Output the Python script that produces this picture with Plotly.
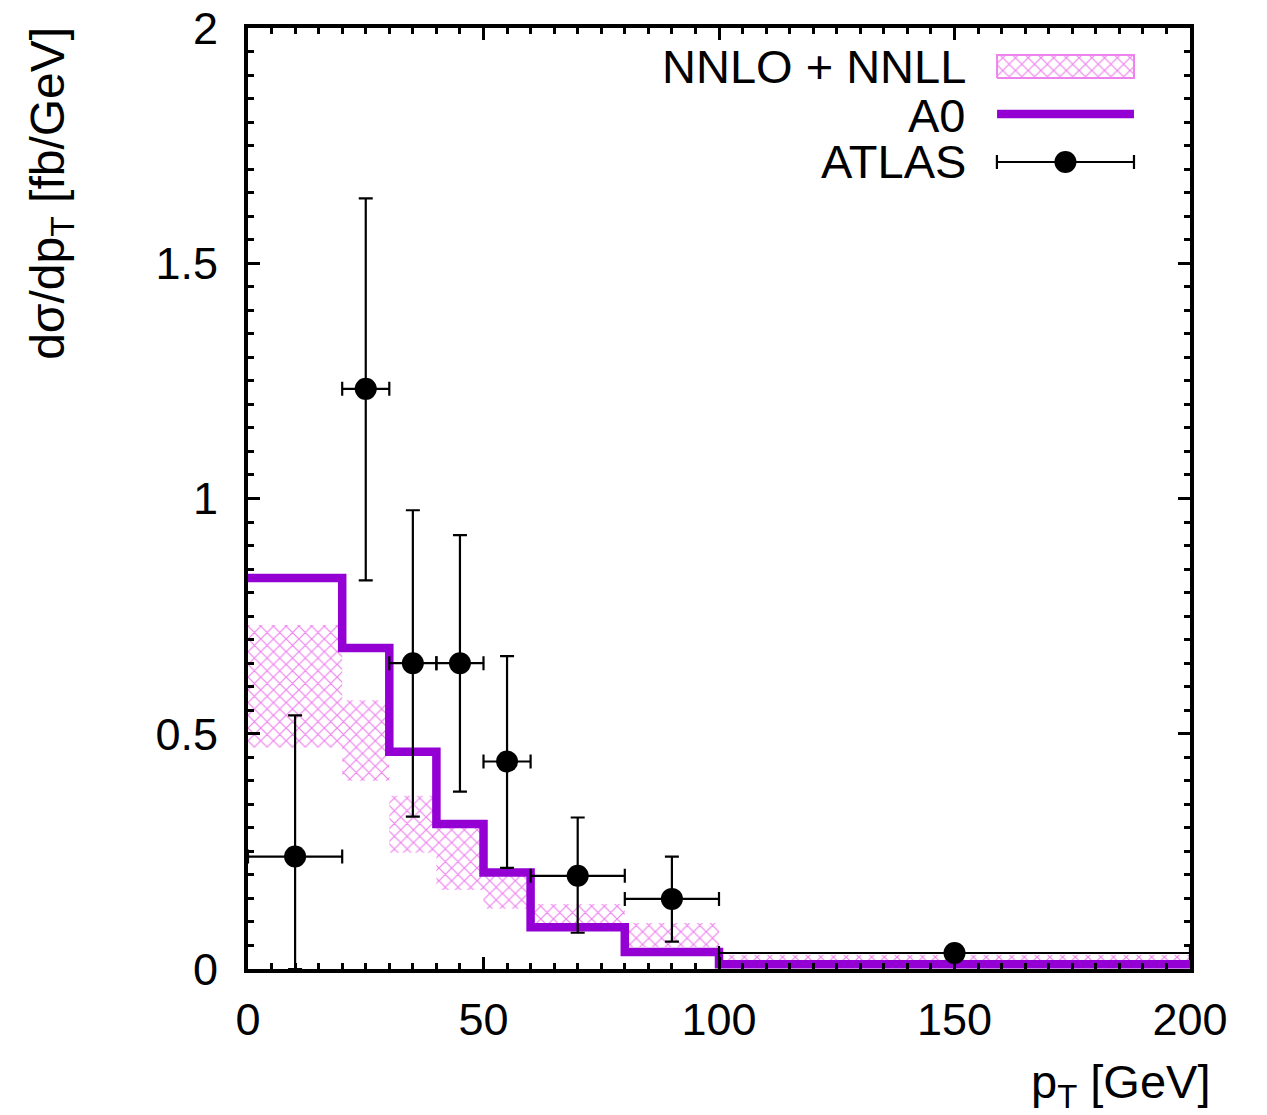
import plotly.graph_objects as go

# ---------------- data ----------------
bin_lo = [0, 20, 30, 40, 50, 60, 80, 100]
bin_hi = [20, 30, 40, 50, 60, 80, 100, 200]

a0_values = [0.831, 0.682, 0.462, 0.308, 0.205, 0.089, 0.036, 0.010]

band_upper = [0.731, 0.571, 0.368, 0.312, 0.205, 0.138, 0.098, 0.030]
band_lower = [0.471, 0.400, 0.247, 0.168, 0.128, 0.084, 0.047, 0.013]

atlas_x = [10, 25, 35, 45, 55, 70, 90, 150]
atlas_xerr = [10, 5, 5, 5, 5, 10, 10, 50]
atlas_y = [0.239, 1.233, 0.650, 0.650, 0.441, 0.198, 0.149, 0.034]
atlas_up = [0.539, 1.638, 0.975, 0.922, 0.665, 0.322, 0.239, 0.036]
atlas_down = [0.000, 0.826, 0.324, 0.377, 0.215, 0.077, 0.058, 0.032]

x_tickvals = [0, 50, 100, 150, 200]
x_ticktext = ["0", "50", "100", "150", "200"]
y_tickvals = [0, 0.5, 1, 1.5, 2]
y_ticktext = ["0", "0.5", "1", "1.5", "2"]

legend_labels = ["NNLO + NNLL", "A0", "ATLAS"]

PINK = "#EE82EE"
PURPLE = "#9400D3"
FONT = "Liberation Sans, Arial, Helvetica, sans-serif"
FS = 45

HATCH = dict(shape="x", fgcolor=PINK, fgopacity=1, bgcolor="rgba(255,255,255,0)",
             size=9, solidity=0.25)

fig = go.Figure()

# ---- NNLO+NNLL band (step polygon) ----
bx, by = [], []
for lo, hi, u in zip(bin_lo, bin_hi, band_upper):
    bx += [lo, hi]
    by += [u, u]
for lo, hi, l in reversed(list(zip(bin_lo, bin_hi, band_lower))):
    bx += [hi, lo]
    by += [l, l]
bx.append(bx[0]); by.append(by[0])
fig.add_trace(go.Scatter(
    x=bx, y=by, mode="lines", fill="toself", line=dict(width=0, color=PINK),
    fillcolor="rgba(0,0,0,0)", fillpattern=HATCH,
    hoverinfo="skip", showlegend=False))

# ---- A0 step line ----
fig.add_trace(go.Scatter(
    x=bin_lo + [bin_hi[-1]], y=a0_values + [a0_values[-1]], mode="lines",
    line=dict(color=PURPLE, width=8.5, shape="hv"), showlegend=False))

# ---- ATLAS data ----
fig.add_trace(go.Scatter(
    x=atlas_x, y=atlas_y, mode="markers",
    marker=dict(color="black", size=22, line=dict(width=0)),
    error_x=dict(type="data", array=atlas_xerr, color="black", thickness=2.2, width=7),
    error_y=dict(type="data", symmetric=False,
                 array=[u - y for u, y in zip(atlas_up, atlas_y)],
                 arrayminus=[y - d for y, d in zip(atlas_y, atlas_down)],
                 color="black", thickness=2.2, width=7),
    showlegend=False))

# ---- legend key drawn in an inset axis ----
fig.add_trace(go.Scatter(
    x=[0.047, 0.96, 0.96, 0.047, 0.047], y=[0.756, 0.756, 0.926, 0.926, 0.756],
    mode="lines", fill="toself", line=dict(color=PINK, width=2),
    fillcolor="rgba(0,0,0,0)", fillpattern=HATCH,
    xaxis="x2", yaxis="y2", showlegend=False, hoverinfo="skip"))
fig.add_trace(go.Scatter(
    x=[0.047, 0.96], y=[0.489, 0.489], mode="lines",
    line=dict(color=PURPLE, width=8.5), xaxis="x2", yaxis="y2",
    showlegend=False, hoverinfo="skip"))
fig.add_trace(go.Scatter(
    x=[0.503], y=[0.133], mode="markers",
    marker=dict(color="black", size=22),
    error_x=dict(type="data", array=[0.457], color="black", thickness=2.2, width=7),
    xaxis="x2", yaxis="y2", showlegend=False, hoverinfo="skip"))

annotations = []
for lab, yy in zip(legend_labels, [0.9596, 0.9075, 0.8576]):
    annotations.append(dict(text=lab, xref="paper", yref="paper", x=0.7643, y=yy,
                            xanchor="right", yanchor="middle", showarrow=False,
                            font=dict(size=47, color="black", family=FONT)))
annotations.append(dict(text="dσ/dp<sub>T</sub> [fb/GeV]", xref="paper", yref="paper",
                        x=-0.21, y=1.003, xanchor="center", yanchor="top", textangle=-90,
                        showarrow=False, font=dict(size=48, color="black", family=FONT)))
annotations.append(dict(text="p<sub>T</sub> [GeV]", xref="paper", yref="paper",
                        x=1.0234, y=-0.1233, xanchor="right", yanchor="middle",
                        showarrow=False, font=dict(size=47, color="black", family=FONT)))

axis_common = dict(showline=True, linewidth=4, linecolor="black", mirror="allticks",
                   ticks="inside", ticklen=12, tickwidth=3, tickcolor="black",
                   showgrid=False, zeroline=False, automargin=False,
                   tickfont=dict(size=FS, color="black", family=FONT))

fig.update_layout(
    width=1267, height=1115,
    margin=dict(l=248, r=77, t=28, b=146, autoexpand=False),
    paper_bgcolor="white", plot_bgcolor="white",
    font=dict(family=FONT, color="black"),
    xaxis=dict(range=[0, 200], tickvals=x_tickvals, ticktext=x_ticktext,
               minor=dict(dtick=5, ticklen=6, tickwidth=3, tickcolor="black", ticks="inside"),
               ticklabelstandoff=8, **axis_common),
    yaxis=dict(range=[0, 2], tickvals=y_tickvals, ticktext=y_ticktext,
               minor=dict(dtick=0.05, ticklen=6, tickwidth=3, tickcolor="black", ticks="inside"),
               ticklabelstandoff=17, **axis_common),
    xaxis2=dict(domain=[0.7877, 0.9469], range=[0, 1], visible=False, anchor="y2"),
    yaxis2=dict(domain=[0.8385, 0.9819], range=[0, 1], visible=False, anchor="x2"),
    annotations=annotations,
    showlegend=False,
)

fig.write_html("out.html")
